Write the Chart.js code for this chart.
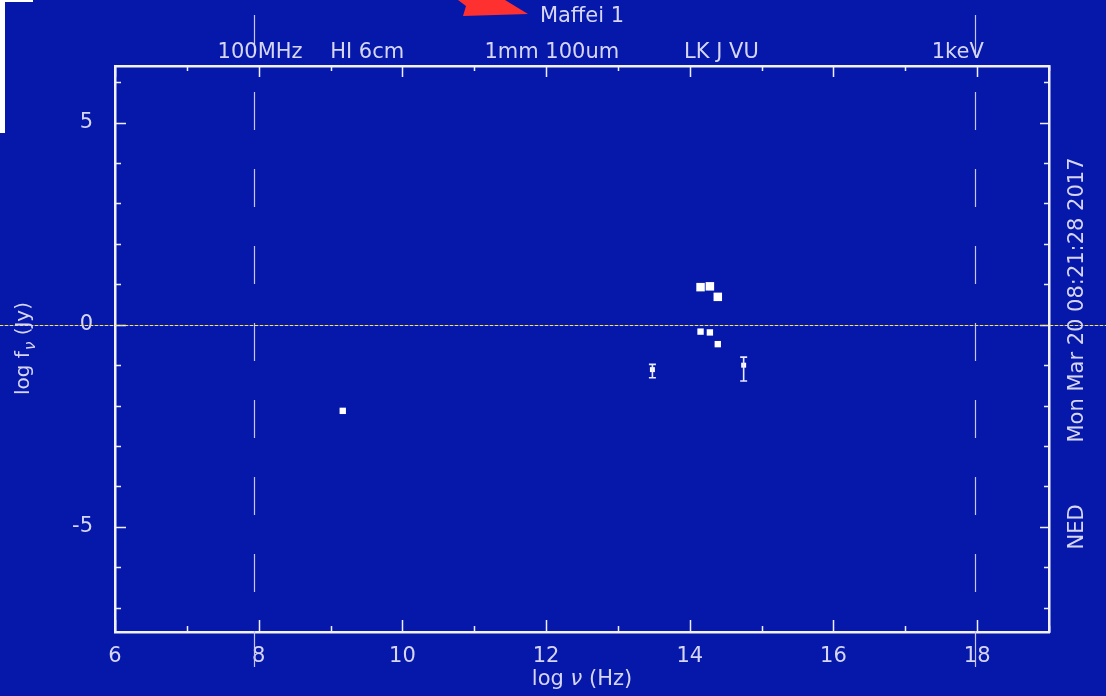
<!DOCTYPE html>
<html>
<head>
<meta charset="utf-8">
<script src="https://cdn.jsdelivr.net/npm/chart.js@4"></script>
<style>
    html, body { margin: 0; padding: 0; background: #0618aa; }
    #wrap { width: 1106px; height: 696px; position: relative; }
</style>
</head>
<body>
<div id="wrap"><canvas id="sedChart"></canvas></div>
<script>
// Data (log nu in Hz, log f_nu in Jy)
const nirFreq = [14.15, 14.28, 14.39];
const nirFlux = [0.93, 0.95, 0.69];
const nirFreqLow = [14.15, 14.28, 14.39];
const nirFluxLow = [-0.17, -0.19, -0.48];
const radioFreq = [9.17];
const radioFlux = [-2.13];
const errFreq = [13.48, 14.75];
const errFlux = [-1.11, -1.0];
const errLow = [-1.31, -1.39];
const errHigh = [-0.98, -0.80];

// Axis ticks and band labels
const xTickValues = [6, 8, 10, 12, 14, 16, 18];
const xMinorTicks = [6, 7, 8, 9, 10, 11, 12, 13, 14, 15, 16, 17, 18, 19];
const yTickValues = [-5, 0, 5];
const yMinorTicks = [-7, -6, -5, -4, -3, -2, -1, 0, 1, 2, 3, 4, 5, 6];
const bandLabels = ['100MHz', 'HI 6cm', '1mm 100um', 'LK J VU', '1keV'];
const bandPositions = [8.02, 9.51, 12.08, 14.44, 17.73];
const markerLines = [7.94, 17.97];

const bgColor = '#0618aa';
const inkColor = '#d6d6f4';
const fontFamily = "'DejaVu Sans', sans-serif";

function toPoints(xs, ys) {
    return xs.map((x, i) => ({ x: x, y: ys[i] }));
}

// Everything PGPLOT-ish the library does not draw by itself
const sedDecorations = {
    id: 'sedDecorations',
    beforeDraw(chart) {
        const ctx = chart.ctx;
        ctx.save();
        ctx.fillStyle = bgColor;
        ctx.fillRect(0, 0, chart.width, chart.height);
        ctx.restore();
    },
    afterDatasetsDraw(chart) {
        const ctx = chart.ctx;
        const xs = chart.scales.x;
        const ys = chart.scales.y;
        const { left, right, top, bottom } = chart.chartArea;

        ctx.save();
        ctx.strokeStyle = '#eeeeff';
        ctx.lineWidth = 1.5;

        // inward ticks, bottom and top
        xMinorTicks.forEach(v => {
            const px = Math.round(xs.getPixelForValue(v)) + 0.5;
            const major = v % 2 === 0;
            ctx.beginPath();
            ctx.moveTo(px, bottom);
            ctx.lineTo(px, bottom - (major ? 12 : 6));
            ctx.moveTo(px, top);
            ctx.lineTo(px, top + (major ? 11 : 5));
            ctx.stroke();
        });

        // inward ticks, left and right
        yMinorTicks.forEach(v => {
            const py = Math.round(ys.getPixelForValue(v)) + 0.5;
            const major = v % 5 === 0;
            ctx.beginPath();
            ctx.moveTo(left, py);
            ctx.lineTo(left + (major ? 11 : 6), py);
            ctx.moveTo(right, py);
            ctx.lineTo(right - (major ? 9 : 5), py);
            ctx.stroke();
        });

        // error bars
        ctx.strokeStyle = '#e8e8ff';
        ctx.lineWidth = 1.6;
        errFreq.forEach((f, i) => {
            const px = xs.getPixelForValue(f);
            const pLo = ys.getPixelForValue(errLow[i]);
            const pHi = ys.getPixelForValue(errHigh[i]);
            ctx.beginPath();
            ctx.moveTo(px, pLo);
            ctx.lineTo(px, pHi);
            ctx.moveTo(px - 3.5, pLo);
            ctx.lineTo(px + 3.5, pLo);
            ctx.moveTo(px - 3.5, pHi);
            ctx.lineTo(px + 3.5, pHi);
            ctx.stroke();
        });
        ctx.restore();
    },
    afterDraw(chart) {
        const ctx = chart.ctx;
        const xs = chart.scales.x;
        const ys = chart.scales.y;
        const { left, right, top, bottom } = chart.chartArea;
        const midX = (left + right) / 2;

        ctx.save();

        // dashed band limits
        ctx.strokeStyle = '#c4c4ee';
        ctx.lineWidth = 1.2;
        ctx.setLineDash([38, 39]);
        markerLines.forEach(v => {
            const px = Math.round(xs.getPixelForValue(v)) + 0.5;
            ctx.beginPath();
            ctx.moveTo(px, top - 51);
            ctx.lineTo(px, bottom + 35);
            ctx.stroke();
        });

        // dotted zero line across the whole picture
        const y0 = Math.round(ys.getPixelForValue(0)) + 0.5;
        ctx.lineWidth = 1;
        ctx.setLineDash([]);
        ctx.strokeStyle = 'rgba(255,255,220,0.3)';
        ctx.beginPath();
        ctx.moveTo(0, y0);
        ctx.lineTo(chart.width, y0);
        ctx.stroke();
        ctx.setLineDash([3, 2]);
        ctx.strokeStyle = '#ffe83a';
        ctx.beginPath();
        ctx.moveTo(0, y0);
        ctx.lineTo(chart.width, y0);
        ctx.stroke();
        ctx.setLineDash([]);

        // texts
        ctx.fillStyle = inkColor;
        ctx.font = '21px ' + fontFamily;
        ctx.textBaseline = 'middle';
        ctx.textAlign = 'center';
        ctx.fillText('Maffei 1', midX, 17);
        bandLabels.forEach((lab, i) => {
            ctx.fillText(lab, xs.getPixelForValue(bandPositions[i]), 53);
        });

        // x axis title: log nu (Hz)
        ctx.textAlign = 'left';
        const xt1 = 'log ';
        const xt2 = 'ν';
        const xt3 = ' (Hz)';
        ctx.font = '21px ' + fontFamily;
        const w1 = ctx.measureText(xt1).width;
        ctx.font = 'italic 21px ' + fontFamily;
        const w2 = ctx.measureText(xt2).width;
        ctx.font = '21px ' + fontFamily;
        const w3 = ctx.measureText(xt3).width;
        let tx = midX - (w1 + w2 + w3) / 2;
        ctx.fillText(xt1, tx, 680);
        ctx.font = 'italic 21px ' + fontFamily;
        ctx.fillText(xt2, tx + w1, 680);
        ctx.font = '21px ' + fontFamily;
        ctx.fillText(xt3, tx + w1 + w2, 680);

        // y axis title: log f_nu (Jy), rotated
        ctx.save();
        ctx.translate(24, 349);
        ctx.rotate(-Math.PI / 2);
        ctx.font = '20px ' + fontFamily;
        const a1 = 'log f';
        const a3 = ' (Jy)';
        const b1 = ctx.measureText(a1).width;
        const b3 = ctx.measureText(a3).width;
        ctx.font = 'italic 15px ' + fontFamily;
        const b2 = ctx.measureText('ν').width;
        let sx = -(b1 + b2 + b3) / 2;
        ctx.font = '20px ' + fontFamily;
        ctx.fillText(a1, sx, 0);
        ctx.font = 'italic 15px ' + fontFamily;
        ctx.fillText('ν', sx + b1 + 1, 7);
        ctx.font = '20px ' + fontFamily;
        ctx.fillText(a3, sx + b1 + b2 + 1, 0);
        ctx.restore();

        // right side stamp
        ctx.save();
        ctx.translate(1078, 300);
        ctx.rotate(-Math.PI / 2);
        ctx.textAlign = 'center';
        ctx.font = '21px ' + fontFamily;
        ctx.fillText('Mon Mar 20 08:21:28 2017', 0, 0);
        ctx.fillText('NED', -227, 0);
        ctx.restore();

        // screenshot leftovers: red arrow head and white edge
        ctx.fillStyle = '#ff3030';
        ctx.beginPath();
        ctx.moveTo(458, 0);
        ctx.lineTo(505, 0);
        ctx.lineTo(528, 14);
        ctx.lineTo(463, 16);
        ctx.lineTo(466, 6);
        ctx.closePath();
        ctx.fill();
        ctx.fillStyle = '#ffffff';
        ctx.fillRect(0, 0, 5, 133);
        ctx.fillRect(0, 0, 33, 2);

        ctx.restore();
    }
};

// Initialize the chart
function initializeChart() {
    const axisBorder = { display: true, color: '#f2f2ff', width: 2.5 };
    const tickFont = { family: fontFamily, size: 21 };

    new Chart(document.getElementById('sedChart'), {
        type: 'scatter',
        data: {
            datasets: [
                {
                    data: toPoints(nirFreq, nirFlux),
                    pointStyle: 'rect',
                    pointRadius: 6,
                    backgroundColor: '#ffffff',
                    borderColor: '#ffffff',
                    borderWidth: 0
                },
                {
                    data: toPoints(nirFreqLow, nirFluxLow),
                    pointStyle: 'rect',
                    pointRadius: 4.5,
                    backgroundColor: '#ffffff',
                    borderColor: '#ffffff',
                    borderWidth: 0
                },
                {
                    data: toPoints(radioFreq, radioFlux),
                    pointStyle: 'rect',
                    pointRadius: 4.5,
                    backgroundColor: '#ffffff',
                    borderColor: '#ffffff',
                    borderWidth: 0
                },
                {
                    data: toPoints(errFreq, errFlux),
                    pointStyle: 'rect',
                    pointRadius: 3.5,
                    backgroundColor: '#ffffff',
                    borderColor: '#ffffff',
                    borderWidth: 0
                }
            ]
        },
        options: {
            responsive: true,
            maintainAspectRatio: false,
            animation: false,
            layout: { padding: 0 },
            plugins: {
                legend: { display: false },
                tooltip: { enabled: false }
            },
            scales: {
                x: {
                    type: 'linear',
                    position: 'bottom',
                    min: 6,
                    max: 19,
                    grid: { display: false },
                    border: axisBorder,
                    ticks: { color: inkColor, font: tickFont, padding: 4, maxRotation: 0 },
                    afterBuildTicks: s => { s.ticks = xTickValues.map(v => ({ value: v })); },
                    afterFit: s => { s.height = 64; }
                },
                xTop: {
                    type: 'linear',
                    position: 'top',
                    min: 6,
                    max: 19,
                    grid: { display: false },
                    border: axisBorder,
                    ticks: { display: false },
                    afterFit: s => { s.height = 66; }
                },
                y: {
                    type: 'linear',
                    position: 'left',
                    min: -7.6,
                    max: 6.4,
                    grid: { display: false },
                    border: axisBorder,
                    ticks: { color: inkColor, font: tickFont, padding: 14 },
                    afterBuildTicks: s => { s.ticks = yTickValues.map(v => ({ value: v })); },
                    afterFit: s => { s.width = 115; }
                },
                yRight: {
                    type: 'linear',
                    position: 'right',
                    min: -7.6,
                    max: 6.4,
                    grid: { display: false },
                    border: axisBorder,
                    ticks: { display: false },
                    afterFit: s => { s.width = 57; }
                }
            }
        },
        plugins: [sedDecorations]
    });
}

window.addEventListener('load', initializeChart);
</script>
</body>
</html>
